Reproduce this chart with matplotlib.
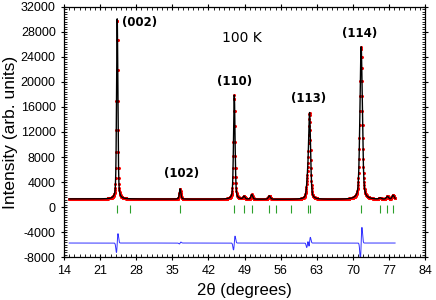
import numpy as np
import matplotlib
matplotlib.use("Agg")
import matplotlib.pyplot as plt
from matplotlib.ticker import MultipleLocator

# peaks of the refined pattern: position (deg), height above background, FWHM (deg)
peak_pos = [24.3, 36.5, 47.0, 48.9, 50.4, 53.8, 61.2, 61.6, 71.6, 75.3, 76.7, 77.8]
peak_height = [28800, 1650, 16650, 450, 750, 550, 2300, 13500, 24400, 200, 450, 650]
peak_fwhm = [0.30, 0.35, 0.35, 0.40, 0.40, 0.45, 0.45, 0.45, 0.55, 0.5, 0.5, 0.5]

# background level across the scan
bg_x = [15, 30, 45, 60, 78]
bg_y = [1300, 1280, 1250, 1230, 1220]

# Bragg reflection markers
bragg_pos = [24.3, 26.7, 36.5, 47.0, 48.9, 50.4, 53.8, 55.1, 58.0,
             61.2, 61.6, 71.6, 75.3, 76.7, 77.8]

# difference curve: offset and wiggle amplitude at the main peaks
diff_offset = -5750
diff_pos = [24.3, 36.5, 47.0, 61.2, 61.6, 71.6]
diff_amp = [1500, 150, 1100, 700, 900, 2500]

hkl_labels = ["(002)", "(102)", "(110)", "(113)", "(114)"]
hkl_x = [28.6, 36.8, 47.0, 61.4, 71.4]
hkl_y = [28500, 4300, 19000, 16300, 26700]

tt = np.arange(15.0, 78.2, 0.02)


def profile(x):
    y = np.interp(x, bg_x, bg_y)
    for p, h, w in zip(peak_pos, peak_height, peak_fwhm):
        g = np.exp(-4 * np.log(2) * ((x - p) / w) ** 2)
        l = 1 / (1 + 4 * ((x - p) / w) ** 2)
        y = y + h * (0.6 * g + 0.4 * l)
    return y


calc = profile(tt)
tt_obs = np.arange(15.0, 78.2, 0.04)
obs = profile(tt_obs)

diff = np.full_like(tt, diff_offset)
for p, a in zip(diff_pos, diff_amp):
    s = 0.15
    d = (tt - p) / s
    diff = diff + a * 1.65 * d * np.exp(-d ** 2 / 2)

plt.rcParams["axes.unicode_minus"] = False
plt.rcParams["font.family"] = ["Liberation Sans", "DejaVu Sans"]

fig = plt.figure(figsize=(4.36, 3.0), dpi=100)
ax = fig.add_axes([0.147, 0.143, 0.828, 0.834])

ax.plot(tt_obs, obs, "o", color="red", markersize=2.2, markeredgewidth=0)
ax.plot(tt, calc, color="black", linewidth=1.0)
ax.vlines(bragg_pos, -900, 300, color="#2ca02c", linewidth=0.8)
ax.plot(tt, diff, color="#3030ff", linewidth=0.7)

for lab, x, y in zip(hkl_labels, hkl_x, hkl_y):
    ax.text(x, y, lab, ha="center", va="bottom", fontsize=8.5,
            fontweight="bold", family="DejaVu Sans")
ax.text(48.5, 25900, "100 K", ha="center", va="bottom", fontsize=10,
        family="DejaVu Sans")

ax.set_xlim(14, 84)
ax.set_ylim(-8000, 32000)
ax.xaxis.set_major_locator(MultipleLocator(7))
ax.xaxis.set_minor_locator(MultipleLocator(1))
ax.yaxis.set_major_locator(MultipleLocator(4000))
ax.yaxis.set_minor_locator(MultipleLocator(400))
ax.tick_params(which="major", direction="inout", length=5, width=0.8,
               labelsize=9, top=True, right=True)
ax.tick_params(which="minor", direction="in", length=2.5, width=0.6,
               top=True, right=True)
for sp in ax.spines.values():
    sp.set_linewidth(0.9)

ax.set_xlabel("2\u03b8 (degrees)", fontsize=12, labelpad=4)
ax.set_ylabel("Intensity (arb. units)", fontsize=12.5, labelpad=2)

fig.savefig("out.png", dpi=100)
plt.close(fig)
